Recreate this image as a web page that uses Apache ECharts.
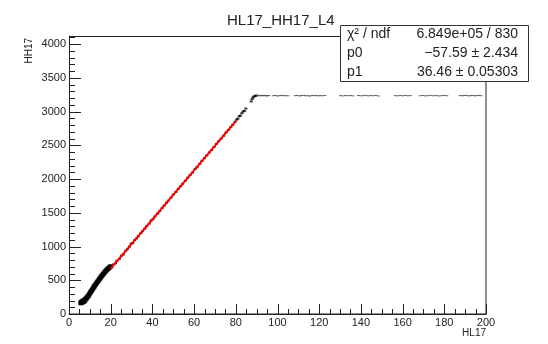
<!DOCTYPE html>
<html>
<head>
<meta charset="utf-8">
<script src="https://cdn.jsdelivr.net/npm/echarts@6/dist/echarts.min.js"></script>
<style>
  html, body { margin: 0; padding: 0; background: #fff; }
  #chart { width: 548px; height: 344px; }
</style>
</head>
<body>
<div id="chart"></div>
<script>
// HL17 vs HH17 scatter
const lowCluster = [
  [5.4,162],[5.6,180],[5.8,158],[6.0,172],[6.1,190],[6.3,165],[6.5,185],[6.6,200],[6.8,172],[7.0,190],[7.1,210],
  [7.3,178],[7.5,200],[7.6,222],[7.8,195],[8.0,215],[8.1,240],[8.3,222],[8.5,248],[8.6,230],[8.8,262],
  [9.0,250],[9.1,275],[9.3,262],[9.5,290],[9.6,272],[9.8,305],[10.0,292],[10.1,325],[10.3,312],[10.5,340],
  [10.6,325],[10.8,355],[11.0,342],[11.2,375],[11.4,360],[11.5,392],[11.7,378],[11.9,410],[12.1,395],[12.2,425],
  [12.4,410],[12.6,440],[12.8,428],[13.0,458],[13.1,442],[13.3,472],[13.5,460],[13.7,490],[13.9,475],[14.1,505],
  [14.2,490],[14.4,520],[14.6,508],[14.8,538],[15.0,522],[15.2,552],[15.3,538],[15.5,566],[15.7,552],[15.9,582],
  [16.1,568],[16.3,598],[16.5,585],[16.7,612],[16.9,600],[17.1,628],[17.3,615],[17.5,642],[17.7,630],[17.9,655],
  [18.1,645],[18.3,668],[18.5,655],[18.7,680],[18.9,668],[19.1,690],[19.3,682],[19.5,700],[19.7,690],[19.9,710]
];
const rampPoints = [
  [20.5,690],[21.4,735],[22.3,752],[23.0,790],[24.2,818],[25.1,862],[26.0,880],[27.3,940],[28.1,965],[29.0,1000],
  [29.8,1045],[30.6,1050],[31.5,1095],[32.4,1120],[33.2,1150],[34.5,1200],[35.3,1228],[36.4,1265],[37.2,1300],[38.5,1340],
  [39.4,1385],[40.3,1405],[41.2,1445],[42.6,1490],[43.5,1525],[44.7,1570],[45.6,1605],[46.8,1650],[47.7,1680],[48.9,1725],
  [50.0,1770],[51.3,1810],[52.4,1855],[53.6,1895],[54.5,1930],[55.8,1975],[57.0,2020],[58.1,2060],[59.2,2095],[60.5,2150],
  [61.4,2175],[62.7,2225],[63.8,2270],[65.0,2310],[66.1,2350],[67.3,2395],[68.4,2430],[69.6,2475],[70.7,2520],[71.8,2560],
  [73.0,2600],[74.1,2640],[75.3,2690],[76.4,2725],[77.6,2770],[78.5,2805],[79.7,2850]
];
const kneePoints = [
  [80.4,2880],[81.0,2895],[81.6,2930],[82.2,2940],[82.9,2975],[83.5,3000],[84.1,3010],[84.8,3045],
  [87.4,3150],[87.8,3185],[88.3,3210],[88.8,3225],[89.3,3232],[89.8,3238]
];
const plateauPoints = [
  [90.4,3236],[91.0,3240],[91.6,3233],[92.2,3238],[92.8,3235],[93.4,3241],[94.0,3234],[94.6,3237],[95.2,3232],[95.8,3238],
  [98.0,3235],[99.0,3238],[100.0,3231],[101.0,3236],[102.0,3240],[103.0,3234],[104.0,3237],[105.0,3233],
  [108.5,3236],[109.5,3239],[110.5,3232],[111.5,3237],[112.5,3241],[113.5,3234],[114.5,3236],[115.5,3230],[116.5,3238],
  [117.5,3235],[118.5,3240],[119.5,3233],[120.5,3237],[121.5,3234],[122.7,3238],
  [130.2,3236],[131.4,3232],[132.6,3239],[133.8,3235],[135.0,3237],[136.2,3233],
  [138.8,3238],[140.0,3234],[141.2,3236],[142.4,3240],[143.6,3233],[144.8,3237],[146.0,3235],[147.2,3239],[148.4,3232],
  [156.5,3236],[157.7,3233],[158.9,3238],[160.1,3235],[161.3,3240],[162.5,3234],[163.7,3237],
  [168.4,3235],[169.7,3238],[171.0,3233],[172.3,3236],[173.6,3240],[174.9,3234],[176.2,3237],[177.5,3232],[178.8,3236],[180.1,3239],[181.2,3235],
  [187.6,3237],[188.6,3234],[189.6,3238],[190.6,3241],[191.6,3233],[192.6,3236],[193.6,3239],[194.6,3234],[195.6,3237],[196.6,3240],[197.6,3235]
];
const fitLine = [[20, 671], [80, 2859]];

const xTicks = { min: 0, max: 200, interval: 20, minor: 5 };
const yTicks = { min: 0, max: 4120, interval: 500, minor: 100 };

const statRows = [
  ['\u03c7\u00b2 / ndf', '6.849e+05 / 830'],
  ['p0', '\u221257.59 \u00b1 2.434'],
  ['p1', '36.46 \u00b1 0.05303']
];

const font = "'Liberation Sans', Arial, Helvetica, sans-serif";
const ink = '#222';
const chart = echarts.init(document.getElementById('chart'));

const dotSeries = (data, size, color) => ({
  type: 'scatter',
  data: data,
  symbol: 'rect',
  symbolSize: size,
  itemStyle: { color: color },
  silent: true,
  z: 2
});

const graphic = [
  {
    // plot frame
    type: 'rect', z: 50,
    shape: { x: 69.5, y: 36.5, width: 416.5, height: 277.5 },
    style: { fill: 'none', stroke: ink, lineWidth: 1 }
  },
  {
    type: 'rect', z: 100,
    shape: { x: 340.5, y: 25.5, width: 188, height: 56 },
    style: { fill: '#fff', stroke: '#333', lineWidth: 1 }
  },
  {
    type: 'text', z: 101, x: 29, y: 38, rotation: Math.PI / 2,
    style: { text: 'HH17', font: '10px ' + font, fill: ink, align: 'right', verticalAlign: 'middle' }
  },
  {
    type: 'text', z: 101, x: 486, y: 328,
    style: { text: 'HL17', font: '10px ' + font, fill: ink, align: 'right', verticalAlign: 'top' }
  }
];
statRows.forEach((row, i) => {
  graphic.push({
    type: 'text', z: 101, x: 347, y: 34 + i * 19,
    style: { text: row[0], font: '14px ' + font, fill: ink, align: 'left', verticalAlign: 'middle' }
  });
  graphic.push({
    type: 'text', z: 101, x: 518, y: 34 + i * 19,
    style: { text: row[1], font: '14px ' + font, fill: ink, align: 'right', verticalAlign: 'middle' }
  });
});

const option = {
  animation: false,
  backgroundColor: '#fff',
  title: {
    text: 'HL17_HH17_L4',
    left: 222, top: 8,
    textStyle: { fontFamily: font, fontSize: 15, fontWeight: 'normal', color: ink }
  },
  grid: { left: 69, right: 62, top: 36, bottom: 30 },
  xAxis: {
    type: 'value',
    min: xTicks.min, max: xTicks.max, interval: xTicks.interval,
    axisLine: { show: true, onZero: false, lineStyle: { color: ink, width: 1 } },
    axisTick: { show: false },
    splitLine: { show: false },
    axisLabel: { fontFamily: font, fontSize: 11, color: ink, margin: 3, formatter: v => String(v) }
  },
  yAxis: {
    type: 'value',
    min: yTicks.min, max: yTicks.max, interval: yTicks.interval,
    axisLine: { show: true, onZero: false, lineStyle: { color: ink, width: 1 } },
    axisTick: { show: false },
    splitLine: { show: false },
    axisLabel: { fontFamily: font, fontSize: 11, color: ink, margin: 3, showMaxLabel: false, formatter: v => String(v) }
  },
  series: [
    dotSeries(lowCluster, [4, 4], '#000'),
    dotSeries(rampPoints, [3, 2], '#000'),
    dotSeries(kneePoints, [3, 2], '#000'),
    dotSeries(plateauPoints, [3, 1], '#444'),
    {
      type: 'line',
      data: fitLine,
      symbol: 'none',
      lineStyle: { color: '#ff0000', width: 2 },
      silent: true,
      z: 3
    }
  ],
  graphic: graphic
};
chart.setOption(option);

// inward ROOT-style ticks, placed through the axes' own scales
const x0 = chart.convertToPixel({ xAxisIndex: 0 }, xTicks.min);
const y0 = chart.convertToPixel({ yAxisIndex: 0 }, yTicks.min);
const tickLines = [];
for (let v = xTicks.min; v <= xTicks.max; v += xTicks.minor) {
  const px = Math.round(chart.convertToPixel({ xAxisIndex: 0 }, v)) + 0.5;
  const len = v % xTicks.interval === 0 ? 10 : 5;
  tickLines.push({
    type: 'line', z: 60, silent: true,
    shape: { x1: px, y1: y0, x2: px, y2: y0 - len },
    style: { stroke: ink, lineWidth: 1 }
  });
}
for (let v = yTicks.min; v <= yTicks.max; v += yTicks.minor) {
  const py = Math.round(chart.convertToPixel({ yAxisIndex: 0 }, v)) + 0.5;
  const len = v % yTicks.interval === 0 ? 12 : 6;
  tickLines.push({
    type: 'line', z: 60, silent: true,
    shape: { x1: x0, y1: py, x2: x0 + len, y2: py },
    style: { stroke: ink, lineWidth: 1 }
  });
}
chart.setOption({ graphic: graphic.concat(tickLines) });
</script>
</body>
</html>
